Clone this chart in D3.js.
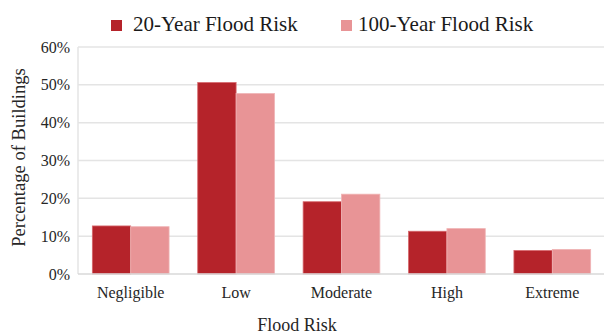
<!DOCTYPE html>
<html>
<head>
<meta charset="utf-8">
<script src="https://cdn.jsdelivr.net/npm/d3@7"></script>
<style>
  html, body { margin: 0; padding: 0; background: #fff; }
  svg { display: block; font-family: "Liberation Serif", "Times New Roman", serif; }
</style>
</head>
<body>
<svg id="chart" width="604" height="335"></svg>
<script>
// Share of buildings by flood-risk class, for two return periods
const categories = ["Negligible", "Low", "Moderate", "High", "Extreme"];
const seriesNames = ["20-Year Flood Risk", "100-Year Flood Risk"];
const risk20 = [12.7, 50.6, 19.1, 11.3, 6.2];
const risk100 = [12.5, 47.7, 21.1, 12.0, 6.5];
const yTicks = [0, 10, 20, 30, 40, 50, 60];
const colors = ["#b5232a", "#e89496"];

const svg = d3.select("#chart");
const margin = { left: 78, right: -1, top: 47, bottom: 61 };
const W = 604, H = 335;
const textColor = "#262626";

const x = d3.scaleBand().domain(categories).range([margin.left, W - margin.right]).paddingInner(0.272).paddingOuter(0.136);
const x1 = d3.scaleBand().domain(seriesNames).range([0, x.bandwidth()]);
const y = d3.scaleLinear().domain([0, 60]).range([H - margin.bottom, margin.top]);

// gridlines
svg.append("g").selectAll("line").data(yTicks.filter(d => d > 0)).join("line")
  .attr("x1", margin.left).attr("x2", W)
  .attr("y1", d => y(d)).attr("y2", d => y(d))
  .attr("stroke", "#e4e4e4").attr("stroke-width", 1.5);

// left axis line
svg.append("line").attr("x1", margin.left).attr("x2", margin.left)
  .attr("y1", y(60)).attr("y2", y(0)).attr("stroke", "#e4e4e4").attr("stroke-width", 1.5);

// bars
const series = [risk20, risk100];
const groups = svg.append("g").selectAll("g").data(categories).join("g")
  .attr("transform", d => `translate(${x(d)},0)`);
groups.selectAll("rect").data((d, i) => seriesNames.map((s, k) => ({ s, v: series[k][i], k })))
  .join("rect")
  .attr("x", d => x1(d.s))
  .attr("width", x1.bandwidth())
  .attr("y", d => y(d.v))
  .attr("height", d => y(0) - y(d.v))
  .attr("fill", d => colors[d.k])
  .attr("stroke", d => d.k === 0 ? "#d6666b" : "#efb4b5")
  .attr("stroke-width", 0.8);

// baseline
svg.append("line").attr("x1", margin.left).attr("x2", W)
  .attr("y1", y(0)).attr("y2", y(0)).attr("stroke", "#d9d9d9").attr("stroke-width", 1.5);

// y axis
const yAxis = svg.append("g").attr("transform", `translate(${margin.left - 8},0)`)
  .call(d3.axisLeft(y).tickValues(yTicks).tickFormat(d => d + "%").tickSize(0).tickPadding(0));
yAxis.select(".domain").remove();
yAxis.selectAll("text").attr("font-family", "Liberation Serif").attr("font-size", 16).attr("fill", textColor);

// x axis
const xAxis = svg.append("g").attr("transform", `translate(0,${y(0) + 13})`)
  .call(d3.axisBottom(x).tickSize(0).tickPadding(0));
xAxis.select(".domain").remove();
xAxis.selectAll("text").attr("font-family", "Liberation Serif").attr("font-size", 16).attr("fill", textColor);

// axis titles
svg.append("text").attr("x", 297).attr("y", 331)
  .attr("text-anchor", "middle").attr("font-size", 18).attr("fill", textColor).text("Flood Risk");
svg.append("text").attr("transform", `translate(25,157.5) rotate(-90)`)
  .attr("text-anchor", "middle").attr("font-size", 18.6).attr("fill", textColor).text("Percentage of Buildings");

// legend
const legendX = [111, 341];
const legend = svg.append("g").selectAll("g").data(seriesNames).join("g")
  .attr("transform", (d, i) => `translate(${legendX[i]},20)`);
legend.append("rect").attr("width", 11).attr("height", 11).attr("fill", (d, i) => colors[i]);
legend.append("text").attr("x", (d, i) => i === 0 ? 22 : 17).attr("y", 11).attr("font-size", 21).attr("fill", "#1a1a1a").text(d => d);
</script>
</body>
</html>
